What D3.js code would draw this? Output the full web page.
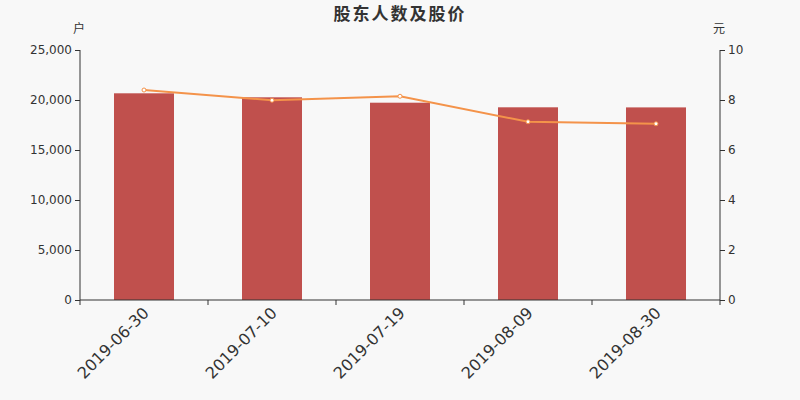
<!DOCTYPE html>
<html>
<head>
<meta charset="utf-8">
<script src="https://cdn.jsdelivr.net/npm/d3@7"></script>
<style>
  body { margin: 0; background: #f8f8f8; }
  svg { display: block; font-family: "DejaVu Sans", sans-serif; }
</style>
</head>
<body>
<div id="chart"></div>
<script>
var dates = ['2019-06-30', '2019-07-10', '2019-07-19', '2019-08-09', '2019-08-30'];
var holders = [20670, 20270, 19730, 19270, 19260];
var prices = [8.40, 7.99, 8.15, 7.13, 7.05];
var leftTicks = [0, 5000, 10000, 15000, 20000, 25000];
var rightTicks = [0, 2, 4, 6, 8, 10];

var width = 800, height = 400;
var margin = { top: 50, right: 80, bottom: 100, left: 80 };

var svg = d3.select('#chart')
  .append('svg')
  .attr('width', width)
  .attr('height', height)
  .style('background', '#f8f8f8');

var x = d3.scaleBand()
  .domain(dates)
  .range([margin.left, width - margin.right]);

var yL = d3.scaleLinear()
  .domain([0, 25000])
  .range([height - margin.bottom, margin.top]);

var yR = d3.scaleLinear()
  .domain([0, 10])
  .range([height - margin.bottom, margin.top]);

var barW = 60;

svg.append('g')
  .selectAll('rect')
  .data(holders)
  .enter()
  .append('rect')
  .attr('x', function(d, i) { return x(dates[i]) + x.bandwidth() / 2 - barW / 2; })
  .attr('y', function(d) { return yL(d); })
  .attr('width', barW)
  .attr('height', function(d) { return yL(0) - yL(d); })
  .attr('fill', '#c0504d');

// axes
var leftAxis = svg.append('g')
  .attr('transform', 'translate(' + margin.left + ',0)')
  .call(d3.axisLeft(yL).tickValues(leftTicks).tickSize(5).tickPadding(3)
    .tickFormat(d3.format(',')));

var rightAxis = svg.append('g')
  .attr('transform', 'translate(' + (width - margin.right) + ',0)')
  .call(d3.axisRight(yR).tickValues(rightTicks).tickSize(5).tickPadding(3));

[leftAxis, rightAxis].forEach(function(g) {
  g.attr('font-family', '"DejaVu Sans", sans-serif').attr('font-size', 12);
  g.select('.domain').attr('stroke', '#333').attr('d', 'M0,' + yL(25000) + 'V' + yL(0));
  g.selectAll('.tick line').attr('stroke', '#333');
  g.selectAll('.tick text').attr('fill', '#333');
});

var xAxis = svg.append('g')
  .attr('transform', 'translate(0,' + (height - margin.bottom) + ')');

xAxis.append('line')
  .attr('x1', margin.left)
  .attr('x2', width - margin.right)
  .attr('stroke', '#333');

xAxis.selectAll('.tk')
  .data(dates.concat(['end']))
  .enter()
  .append('line')
  .attr('x1', function(d, i) { return margin.left + i * x.bandwidth(); })
  .attr('x2', function(d, i) { return margin.left + i * x.bandwidth(); })
  .attr('y1', 0)
  .attr('y2', 5)
  .attr('stroke', '#333');

xAxis.selectAll('text')
  .data(dates)
  .enter()
  .append('text')
  .attr('transform', function(d) {
    return 'translate(' + (x(d) + x.bandwidth() / 2 + 2) + ',10) rotate(-45)';
  })
  .attr('text-anchor', 'end')
  .attr('dy', '0.35em')
  .attr('fill', '#333')
  .style('font-size', '16px')
  .text(function(d) { return d; });

// price line
var line = d3.line()
  .x(function(d, i) { return x(dates[i]) + x.bandwidth() / 2; })
  .y(function(d) { return yR(d); });

svg.append('path')
  .datum(prices)
  .attr('d', line)
  .attr('fill', 'none')
  .attr('stroke', '#f4934a')
  .attr('stroke-width', 2);

svg.append('g')
  .selectAll('circle')
  .data(prices)
  .enter()
  .append('circle')
  .attr('cx', function(d, i) { return x(dates[i]) + x.bandwidth() / 2; })
  .attr('cy', function(d) { return yR(d); })
  .attr('r', 2)
  .attr('fill', '#fff')
  .attr('stroke', '#f4934a')
  .attr('stroke-width', 1);

// title and units
svg.append('text')
  .attr('x', width / 2)
  .attr('y', 20)
  .attr('text-anchor', 'middle')
  .attr('fill', '#333')
  .style('font-size', '17px')
  .style('font-weight', 'bold')
  .style('letter-spacing', '2px')
  .style('font-family', '"Noto Sans CJK SC", sans-serif')
  .text('股东人数及股价');

svg.append('text')
  .attr('x', 79)
  .attr('y', 33)
  .attr('text-anchor', 'middle')
  .attr('fill', '#333')
  .style('font-size', '12px')
  .style('font-family', '"Noto Sans CJK SC", sans-serif')
  .text('户');

svg.append('text')
  .attr('x', 719)
  .attr('y', 33)
  .attr('text-anchor', 'middle')
  .attr('fill', '#333')
  .style('font-size', '12px')
  .style('font-family', '"Noto Sans CJK SC", sans-serif')
  .text('元');
</script>
</body>
</html>
